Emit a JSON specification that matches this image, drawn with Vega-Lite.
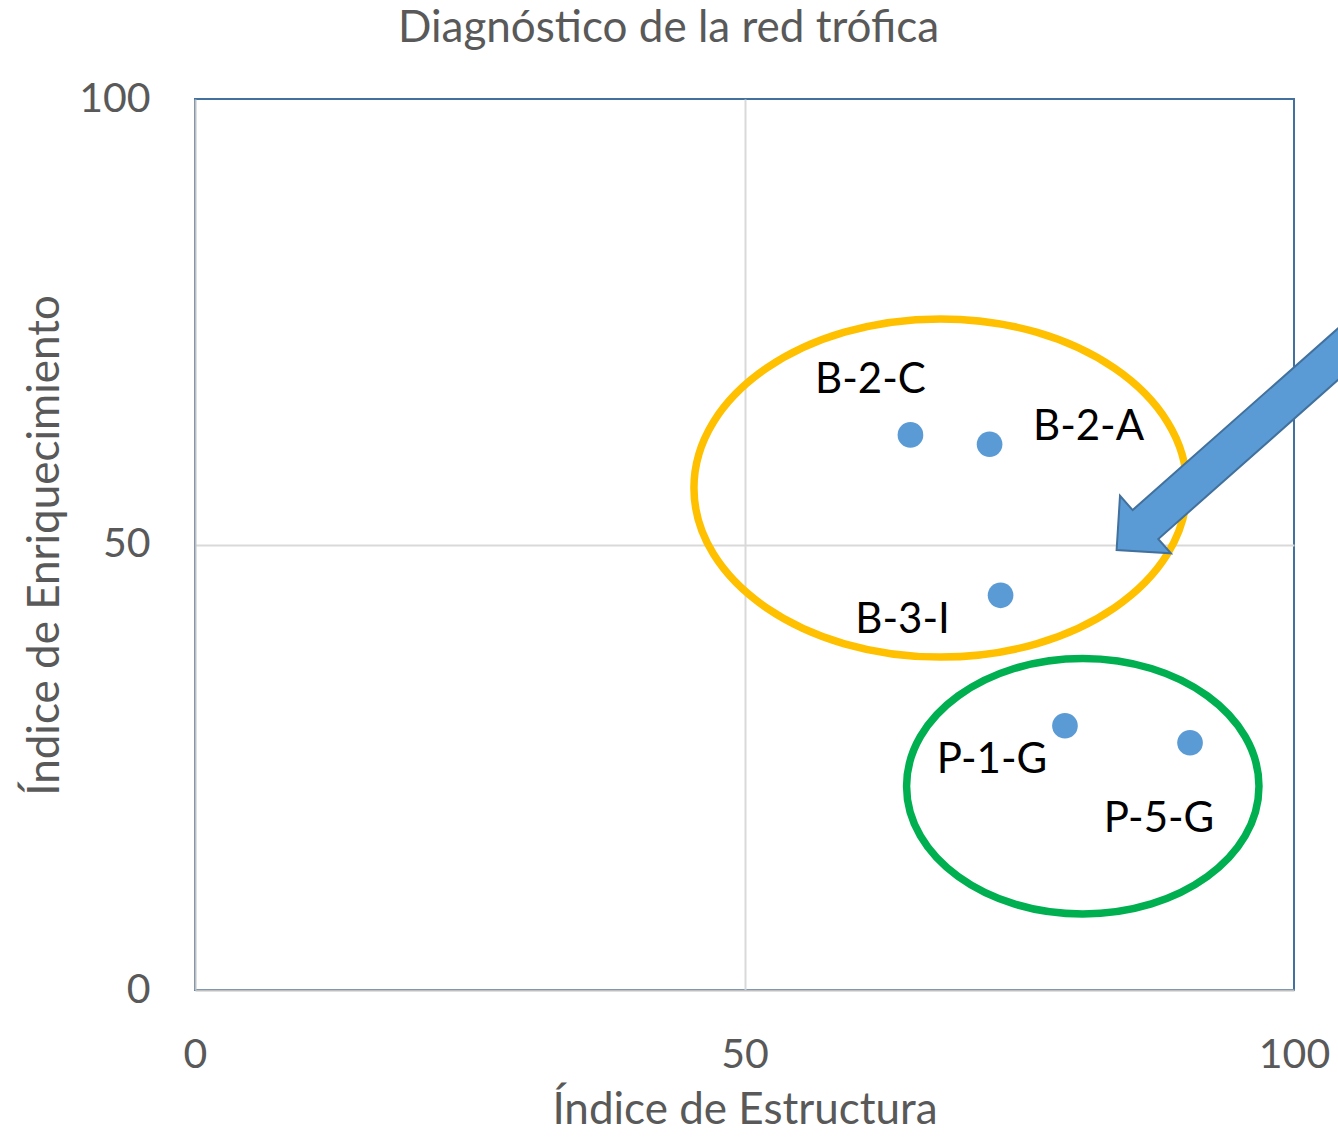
{
  "$schema": "https://vega.github.io/schema/vega-lite/v6.json",
  "width": 1099,
  "height": 891,
  "autosize": {"type": "none"},
  "padding": {"left": 195, "top": 99, "right": 44, "bottom": 151},
  "background": "white",
  "title": {
    "text": "Diagnóstico de la red trófica",
    "fontSize": 44,
    "fontWeight": "normal",
    "color": "#595959",
    "anchor": "middle",
    "frame": "group",
    "dx": -76,
    "baseline": "alphabetic",
    "offset": -8
  },
  "config": {
    "font": "Lato",
    "view": {"stroke": "#41719C", "strokeWidth": 2},
    "axis": {
      "ticks": false,
      "labelFontSize": 41,
      "labelColor": "#595959",
      "labelPadding": 45,
      "labelOverlap": false,
      "labelFlush": false,
      "labelBound": false,
      "domainColor": "#BFBFBF",
      "domainWidth": 2,
      "gridColor": {"condition": {"test": "datum.value === 50", "value": "#D9D9D9"}, "value": "transparent"},
      "gridWidth": 2,
      "titleFontSize": 44,
      "titleFontWeight": "normal",
      "titleColor": "#595959",
      "titleBaseline": "alphabetic"
    }
  },
  "datasets": {
    "puntos": [
      {"etiqueta": "B-2-C", "x": 65.1, "y": 62.3},
      {"etiqueta": "B-2-A", "x": 72.3, "y": 61.25},
      {"etiqueta": "B-3-I", "x": 73.3, "y": 44.3},
      {"etiqueta": "P-1-G", "x": 79.16, "y": 29.66},
      {"etiqueta": "P-5-G", "x": 90.54, "y": 27.75}
    ],
    "grupos": [
      {"grupo": "naranja", "x": 67.83, "y": 56.34},
      {"grupo": "verde", "x": 80.78, "y": 22.87}
    ],
    "flecha": [
      {"x": 83.86, "y": 49.38}
    ]
  },
  "encoding": {
    "x": {
      "field": "x",
      "type": "quantitative",
      "scale": {"domain": [0, 100], "nice": false, "zero": false},
      "axis": {"title": "Índice de Estructura", "values": [0, 50, 100], "titleY": 133}
    },
    "y": {
      "field": "y",
      "type": "quantitative",
      "scale": {"domain": [0, 100], "nice": false, "zero": false},
      "axis": {"title": "Índice de Enriquecimiento", "values": [0, 50, 100], "titleX": -137, "titleY": 446, "titleAlign": "center"}
    }
  },
  "layer": [
    {
      "data": {"name": "grupos"},
      "transform": [{"filter": "datum.grupo === 'naranja'"}],
      "mark": {
        "type": "point",
        "shape": "M -1 0 C -1 -0.3789 -0.5523 -0.686 0 -0.686 C 0.5523 -0.686 1 -0.3789 1 0 C 1 0.3789 0.5523 0.686 0 0.686 C -0.5523 0.686 -1 0.3789 -1 0 Z",
        "size": 243049,
        "filled": false,
        "stroke": "#FFC000",
        "strokeWidth": 7.5,
        "opacity": 1
      }
    },
    {
      "data": {"name": "grupos"},
      "transform": [{"filter": "datum.grupo === 'verde'"}],
      "mark": {
        "type": "point",
        "shape": "M -1 0 C -1 -0.4004 -0.5523 -0.725 0 -0.725 C 0.5523 -0.725 1 -0.4004 1 0 C 1 0.4004 0.5523 0.725 0 0.725 C -0.5523 0.725 -1 0.4004 -1 0 Z",
        "size": 124186,
        "filled": false,
        "stroke": "#00B050",
        "strokeWidth": 7.5,
        "opacity": 1
      }
    },
    {
      "data": {"name": "puntos"},
      "mark": {"type": "circle", "size": 660, "color": "#5B9BD5", "opacity": 1}
    },
    {
      "data": {"name": "puntos"},
      "transform": [{"filter": "datum.etiqueta === 'B-2-C'"}],
      "mark": {"type": "text", "fontSize": 42, "color": "#000000", "align": "center", "baseline": "middle", "dx": -40, "dy": -55},
      "encoding": {"text": {"field": "etiqueta"}}
    },
    {
      "data": {"name": "puntos"},
      "transform": [{"filter": "datum.etiqueta === 'B-2-A'"}],
      "mark": {"type": "text", "fontSize": 42, "color": "#000000", "align": "center", "baseline": "middle", "dx": 99, "dy": -17},
      "encoding": {"text": {"field": "etiqueta"}}
    },
    {
      "data": {"name": "puntos"},
      "transform": [{"filter": "datum.etiqueta === 'B-3-I'"}],
      "mark": {"type": "text", "fontSize": 42, "color": "#000000", "align": "center", "baseline": "middle", "dx": -98, "dy": 25},
      "encoding": {"text": {"field": "etiqueta"}}
    },
    {
      "data": {"name": "puntos"},
      "transform": [{"filter": "datum.etiqueta === 'P-1-G'"}],
      "mark": {"type": "text", "fontSize": 42, "color": "#000000", "align": "center", "baseline": "middle", "dx": -73, "dy": 34},
      "encoding": {"text": {"field": "etiqueta"}}
    },
    {
      "data": {"name": "puntos"},
      "transform": [{"filter": "datum.etiqueta === 'P-5-G'"}],
      "mark": {"type": "text", "fontSize": 42, "color": "#000000", "align": "center", "baseline": "middle", "dx": -31, "dy": 76},
      "encoding": {"text": {"field": "etiqueta"}}
    },
    {
      "data": {"name": "flecha"},
      "mark": {
        "type": "point",
        "shape": "M 0 0 L 0.77 -0.768 L 0.77 -0.386 L 8 -0.386 L 8 0.386 L 0.77 0.386 L 0.77 0.768 Z",
        "size": 10000,
        "angle": -41.5,
        "filled": true,
        "fill": "#5B9BD5",
        "stroke": "#41719C",
        "strokeWidth": 2,
        "opacity": 1
      }
    }
  ]
}
